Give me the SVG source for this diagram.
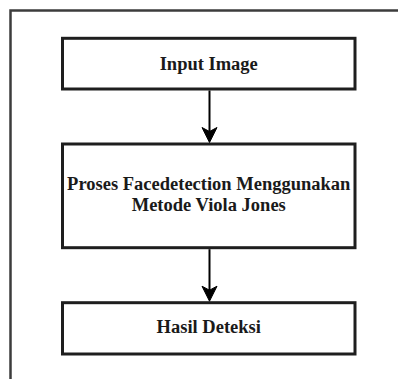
<svg xmlns="http://www.w3.org/2000/svg" width="398" height="379" viewBox="0 0 398 379">
<style>
.frame{fill:#ffffff;stroke:#3c3c3c;stroke-width:2.5}
.box{fill:#ffffff;stroke:#1e1e1e;stroke-width:3}
.lbl{font-family:"Liberation Serif","Times New Roman",serif;font-weight:bold;font-size:18.5px;fill:#1a1a1a;text-anchor:middle}
.conn{stroke:#000000;stroke-width:2;fill:none}
.head{fill:#000000;stroke:#000000;stroke-width:1}
</style>
<rect width="398" height="379" fill="#ffffff"/>
<rect class="frame" x="10.5" y="10.5" width="400" height="380"/>
<g id="node-input">
<rect class="box" x="62.5" y="38.3" width="292.5" height="50.7"/>
<text class="lbl" x="208.75" y="69.5">Input Image</text>
</g>
<g id="node-proses">
<rect class="box" x="62.5" y="144" width="292.5" height="103.7"/>
<text class="lbl" x="208.75" y="190">Proses Facedetection Menggunakan</text>
<text class="lbl" x="208.75" y="211">Metode Viola Jones</text>
</g>
<g id="node-hasil">
<rect class="box" x="62.5" y="302.7" width="292.5" height="51.3"/>
<text class="lbl" x="208.75" y="333">Hasil Deteksi</text>
</g>
<g id="connectors">
<line class="conn" x1="209.5" y1="90.5" x2="209.5" y2="132"/>
<path class="head" d="M209.5,142.5 L202,127.5 L209.5,131.5 L217,127.5 Z"/>
<line class="conn" x1="209.5" y1="249.2" x2="209.5" y2="291"/>
<path class="head" d="M209.5,301.2 L202,286.2 L209.5,290.2 L217,286.2 Z"/>
</g>
</svg>
